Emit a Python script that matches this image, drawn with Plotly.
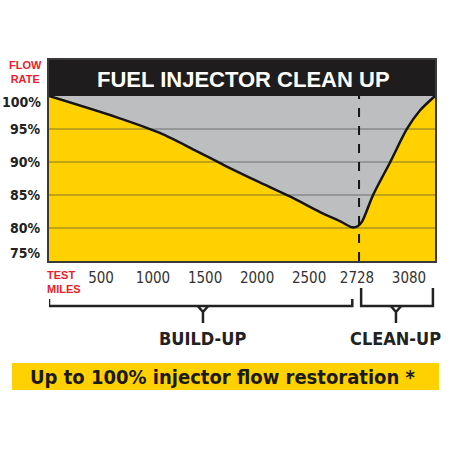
import plotly.graph_objects as go

# curve: x is the slot position on the (evenly spaced) mileage axis, y is flow rate %
curve_pos = [0, 1.29, 2.13, 2.8, 3.37, 4.0, 4.65, 5.21, 5.6, 5.83, 5.94, 6.02, 6.23, 6.56, 6.88, 7.13, 7.42]
curve_flow = [100, 96.8, 94.4, 91.8, 89.5, 87.1, 84.7, 82.4, 81.0, 80.1, 80.3, 81.0, 85, 90, 95, 97.8, 100]

tick_pos = [1, 2, 3, 4, 5, 5.92, 6.92]
tick_text = ["500", "1000", "1500", "2000", "2500", "2728", "3080"]

flow_levels = [75, 80, 85, 90, 95, 100]
flow_labels = ["75%", "80%", "85%", "90%", "95%", "100%"]
grid_levels = [80, 85, 90, 95]

cleanup_start = 5.96
x_max = 7.42
y_min, y_top = 75, 105.45

YELLOW = "#FFD100"
GRAY = "#BDBEC0"
RED = "#EC1C2E"
INK = "#222222"

PLOT_LEFT, PLOT_RIGHT = 49, 435
PLOT_TOP, PLOT_BOTTOM = 60, 261


def py(p):
    # pixel row -> paper y
    return (PLOT_BOTTOM - p) / (PLOT_BOTTOM - PLOT_TOP)


def px(p):
    # pixel column -> paper x
    return (p - PLOT_LEFT) / (PLOT_RIGHT - PLOT_LEFT)


fig = go.Figure()

fig.add_trace(go.Scatter(x=curve_pos, y=curve_flow, mode="lines", line=dict(width=0, shape="spline", smoothing=0.8),
                         fill="tozeroy", fillcolor=YELLOW, hoverinfo="skip"))

gx, gy = [], []
for g in grid_levels:
    gx += [0, x_max, None]
    gy += [g, g, None]
fig.add_trace(go.Scatter(x=gx, y=gy, mode="lines", line=dict(color="rgba(70,70,70,0.33)", width=2),
                         hoverinfo="skip"))

fig.add_trace(go.Scatter(x=curve_pos, y=curve_flow, mode="lines",
                         line=dict(color="#151515", width=2.5, shape="spline", smoothing=0.8), hoverinfo="skip"))

fig.add_trace(go.Scatter(x=[cleanup_start, cleanup_start], y=[y_min, 100], mode="lines",
                         line=dict(color="#151515", width=2, dash="dash"), hoverinfo="skip"))

shapes = [
    dict(type="rect", xref="x", yref="y", x0=0, x1=x_max, y0=100, y1=y_top,
         fillcolor="#1e1c1c", line=dict(width=0), layer="above"),
    dict(type="rect", xref="paper", yref="paper", x0=px(12), x1=px(439), y0=py(390), y1=py(363),
         fillcolor=YELLOW, line=dict(width=0)),
]

# brackets under the axis
bracket = dict(color=INK, width=2.5)
for x0, x1, xm, top in [(0, 5.83, 2.96, 299), (6.0, 7.38, 6.67, 288)]:
    shapes.append(dict(type="path", xref="x", yref="paper",
                       path=f"M {x0},{py(top)} L {x0},{py(306)} L {x1},{py(306)} L {x1},{py(top)}",
                       line=bracket))
    shapes.append(dict(type="path", xref="x", yref="paper",
                       path=f"M {xm - 0.1},{py(306)} L {xm},{py(312)} L {xm},{py(323)} "
                            f"M {xm + 0.1},{py(306)} L {xm},{py(312)}",
                       line=bracket))


def note(text, x, y, xref="paper", yref="paper", **kw):
    d = dict(text=text, x=x, y=y, xref=xref, yref=yref, showarrow=False,
             xanchor="center", yanchor="middle")
    d.update(kw)
    return d


annotations = [
    note("FUEL INJECTOR CLEAN UP", px(243), py(79),
         font=dict(family="Liberation Sans", size=22, color="white", weight="bold")),
    note("FLOW<br>RATE", px(25), py(72),
         font=dict(family="Liberation Sans", size=11, color=RED, weight="bold")),
    note("TEST<br>MILES", px(45), py(282), xanchor="left", align="left",
         font=dict(family="Liberation Sans", size=11, color=RED, weight="bold")),
    note("BUILD-UP", 2.96, py(338), xref="x",
         font=dict(family="DejaVu Sans Condensed", size=18, color=INK, weight="bold")),
    note("CLEAN-UP", 6.67, py(338), xref="x",
         font=dict(family="DejaVu Sans Condensed", size=18, color=INK, weight="bold")),
    note("Up to 100% injector flow restoration *", px(222), py(377),
         font=dict(family="DejaVu Sans Condensed", size=20, color="#1a1a1a", weight="bold")),
]

# y labels, nudged at the ends to sit inside the frame
for lvl, lab in zip(flow_levels, flow_labels):
    shift = 8 if lvl == y_min else (-6 if lvl == 100 else 0)
    annotations.append(note(lab, px(43), lvl, yref="y", yshift=shift, xanchor="right",
                            font=dict(family="DejaVu Sans Condensed", size=14, color=INK, weight="bold")))

fig.update_layout(
    width=450, height=450,
    margin=dict(l=PLOT_LEFT, r=450 - PLOT_RIGHT, t=PLOT_TOP, b=450 - PLOT_BOTTOM),
    paper_bgcolor="white", plot_bgcolor=GRAY,
    showlegend=False,
    shapes=shapes, annotations=annotations,
    xaxis=dict(range=[0, x_max], tickvals=tick_pos, ticktext=tick_text, showgrid=False, zeroline=False,
               ticks="", ticklabelstandoff=2,
               tickfont=dict(family="DejaVu Sans Condensed", size=15, color="#333333"),
               showline=True, linecolor="#3a3a3a", linewidth=2, mirror=True, fixedrange=True),
    yaxis=dict(range=[y_min, y_top], showticklabels=False, showgrid=False, zeroline=False,
               showline=True, linecolor="#3a3a3a", linewidth=2, mirror=True, fixedrange=True),
)

fig.write_html("out.html", config={"displayModeBar": False})

# drop the browser's default body margin so the figure sits at the window corner
with open("out.html", encoding="utf-8") as f:
    page = f.read()
page = page.replace("<body>", '<body style="margin:0">', 1)
with open("out.html", "w", encoding="utf-8") as f:
    f.write(page)
